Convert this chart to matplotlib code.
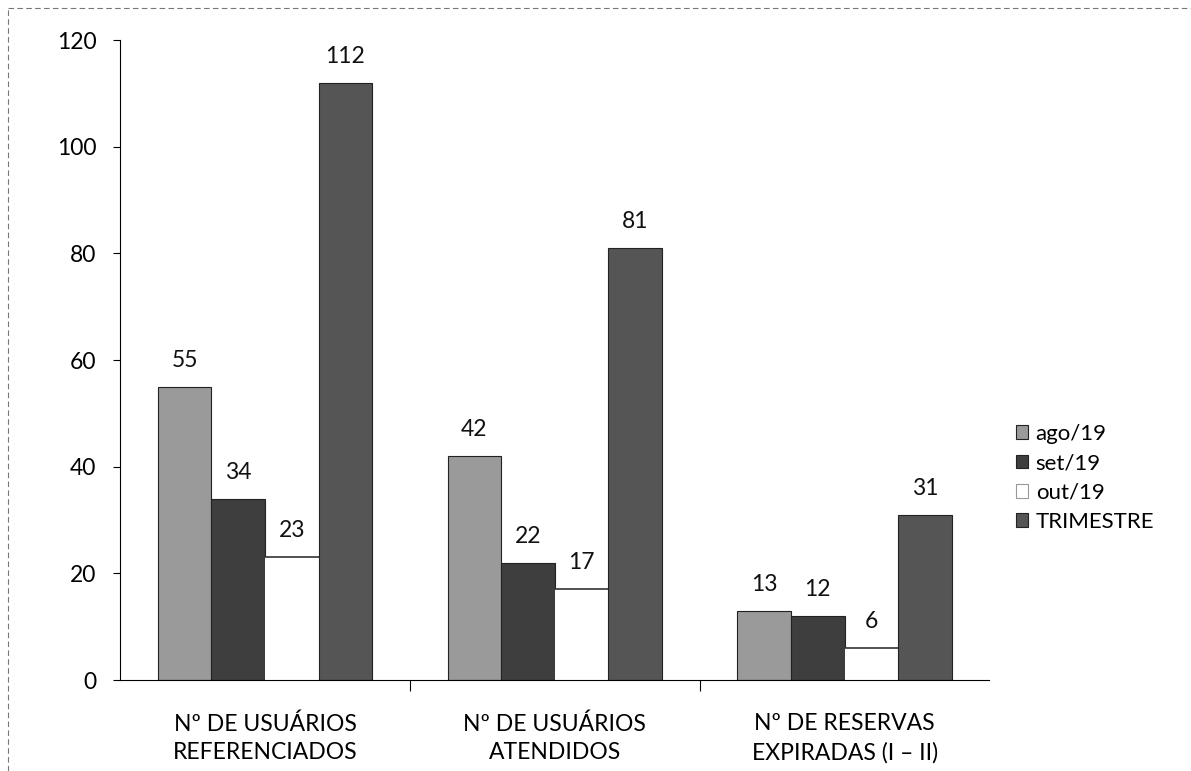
import matplotlib
matplotlib.use("Agg")
import matplotlib.pyplot as plt
import numpy as np
from matplotlib.patches import Patch
from matplotlib.lines import Line2D

categories = ["Nº DE USUÁRIOS\nREFERENCIADOS", "Nº DE USUÁRIOS\nATENDIDOS", "Nº DE RESERVAS\nEXPIRADAS (I – II)"]
series_names = ["ago/19", "set/19", "out/19", "TRIMESTRE"]
ago = [55, 42, 13]
set_ = [34, 22, 12]
out = [23, 17, 6]
trimestre = [112, 81, 31]
yticks = [0, 20, 40, 60, 80, 100, 120]

series = [ago, set_, out, trimestre]
colors = ["#9a9a9a", "#3e3e3e", "#ffffff", "#555555"]

plt.rcParams['font.family'] = ['Lato', 'DejaVu Sans']
fig = plt.figure(figsize=(11.91, 7.71), dpi=100)
ax = fig.add_axes([0.1008, 0.118, 0.73, 0.830])

x = np.arange(len(categories))
w = 0.185
offsets = (np.arange(4) - 1.5) * w
for i, (vals, c) in enumerate(zip(series, colors)):
    pos = x + offsets[i]
    if c == "#ffffff":
        ax.bar(pos, vals, w, color="white", edgecolor="none", zorder=2)
        ax.hlines(vals, pos - w / 2, pos + w / 2, color="#333333", lw=1.2, zorder=3)
    else:
        ax.bar(pos, vals, w, color=c, edgecolor="#222222", lw=0.8, zorder=2)
    for p, v in zip(pos, vals):
        ax.text(p, v + 3.0, str(v), ha="center", va="bottom", fontsize=16.5, color="#111111")

ax.set_xlim(-0.5, 2.5)
ax.set_ylim(0, 120)
ax.set_yticks(yticks)
ax.set_yticklabels([str(t) for t in yticks], fontsize=16.5)
ax.set_xticks([0.5, 1.5])
ax.set_xticklabels([])
ax.tick_params(axis='x', length=8, direction='out', width=0.8)
ax.tick_params(axis='y', length=5, direction='out', width=0.8, pad=12)
ax.spines['top'].set_visible(False)
ax.spines['right'].set_visible(False)
ax.spines['left'].set_linewidth(0.8)
ax.spines['bottom'].set_linewidth(0.8)
ax.spines['left'].set_linestyle((0, (6, 1)))
for i, cat in enumerate(categories):
    ax.text(i, -6.2, cat, ha="center", va="top", fontsize=16.5, linespacing=1.45,
            transform=ax.transData, clip_on=False)

handles = [Patch(facecolor=c, edgecolor="#222222" if c != "#ffffff" else "#999999", lw=0.8)
           for c in colors]
leg = fig.legend(handles, series_names, loc="center left", bbox_to_anchor=(0.836, 0.38),
                 frameon=False, fontsize=16, handlelength=0.55, handleheight=0.55,
                 handletextpad=0.35, labelspacing=0.42)

# faint scanned border
fig.add_artist(Line2D([0.007, 0.007], [0.0, 0.99], transform=fig.transFigure,
                      color="#777777", lw=0.8, ls=(0, (5, 3))))
fig.add_artist(Line2D([0.007, 1.0], [0.99, 0.99], transform=fig.transFigure,
                      color="#777777", lw=0.8, ls=(0, (5, 3))))

fig.savefig("out.png", dpi=100)
